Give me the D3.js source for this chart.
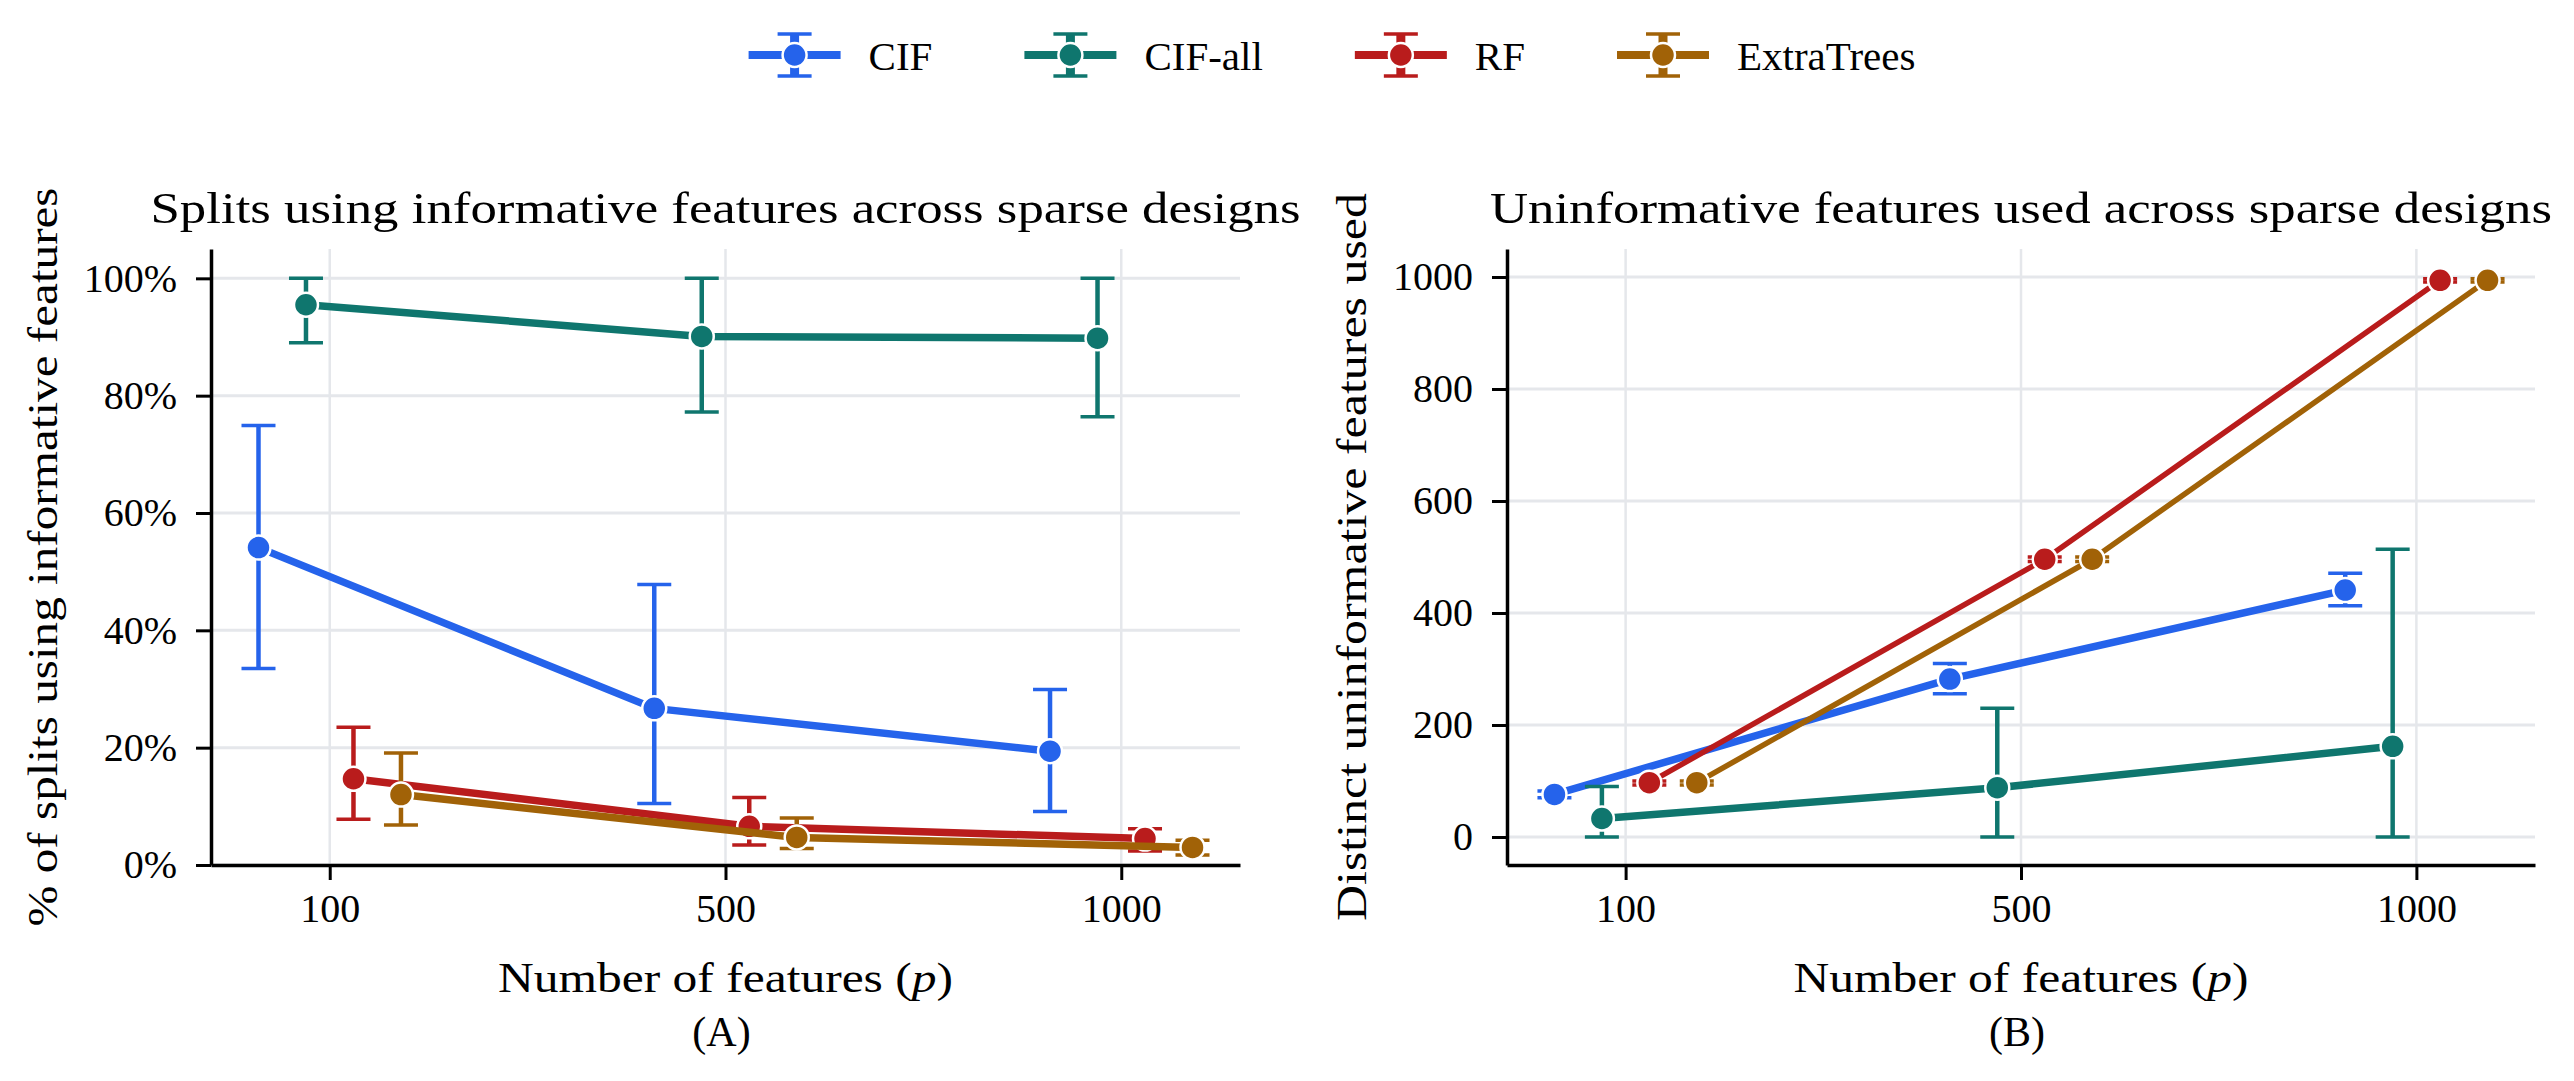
<!DOCTYPE html>
<html>
<head>
<meta charset="utf-8">
<script src="https://cdn.jsdelivr.net/npm/d3@7"></script>
<style>
  html, body { margin: 0; padding: 0; background: #fff; }
  text { font-family: "Liberation Serif", "DejaVu Serif", serif; fill: #000; }
</style>
</head>
<body>
<div id="chart"></div>
<script>
// categories on the x axis (number of features p)
const categories = ['100', '500', '1000'];
const seriesNames = ['CIF', 'CIF-all', 'RF', 'ExtraTrees'];
const seriesColors = ['#2563eb', '#0f766e', '#b91c1c', '#a16207'];

// (A) % of splits using informative features, one row per series
const splitsMean = [
  [54.1, 26.7, 19.4],
  [95.5, 90.1, 89.8],
  [14.7, 6.6, 4.5],
  [12.0, 4.7, 3.0]
];
const splitsLow = [
  [33.5, 10.5, 9.1],
  [89.0, 77.2, 76.4],
  [7.8, 3.4, 2.4],
  [6.8, 2.8, 1.7]
];
const splitsHigh = [
  [74.9, 47.8, 29.9],
  [100, 100, 100],
  [23.5, 11.5, 6.2],
  [19.1, 8.0, 4.2]
];
const splitsTicks = [0, 20, 40, 60, 80, 100];

// (B) distinct uninformative features used
const unusedMean = [
  [76, 282, 441],
  [33, 88, 162],
  [97, 496, 994],
  [97, 496, 994]
];
const unusedLow = [
  [70, 256, 413],
  [0, 0, 0],
  [93, 492, 991],
  [93, 492, 991]
];
const unusedHigh = [
  [82, 310, 471],
  [90, 230, 514],
  [100, 500, 997],
  [100, 500, 997]
];
const unusedTicks = [0, 200, 400, 600, 800, 1000];

const dodge = [-0.18, -0.06, 0.06, 0.18];

const W = 2574, H = 1081;
const gridColor = '#e5e7eb';

const svg = d3.select('#chart').append('svg')
  .attr('width', W)
  .attr('height', H)
  .attr('viewBox', `0 0 ${W} ${H}`);
svg.append('rect').attr('width', W).attr('height', H).attr('fill', '#fff');

function fitText(sel, len) {
  sel.attr('textLength', len).attr('lengthAdjust', 'spacingAndGlyphs');
}

function drawPanel(opt) {
  const { left, right, top, bottom, yDomain, yTicks, yFormat,
    mean, low, high, lineWidths } = opt;
  const g = svg.append('g');
  const x = d3.scaleLinear([-0.3, 2.3], [left, right]);
  const y = d3.scaleLinear(yDomain, [bottom, top]);

  // grid
  g.append('g').selectAll('line.hgrid')
    .data(yTicks)
    .join('line')
      .attr('x1', left).attr('x2', right)
      .attr('y1', d => y(d)).attr('y2', d => y(d))
      .attr('stroke', gridColor).attr('stroke-width', 3);
  g.append('g').selectAll('line.vgrid')
    .data(categories.map((c, i) => i))
    .join('line')
      .attr('x1', d => x(d)).attr('x2', d => x(d))
      .attr('y1', top).attr('y2', bottom)
      .attr('stroke', gridColor).attr('stroke-width', 2.5);

  // series: error bars, line, markers
  seriesNames.forEach((name, s) => {
    const color = seriesColors[s];
    const pts = categories.map((c, i) => ({
      x: x(i + dodge[s]),
      m: y(mean[s][i]),
      lo: y(low[s][i]),
      hi: y(high[s][i])
    }));
    const sg = g.append('g');

    sg.selectAll('line.stem')
      .data(pts)
      .join('line')
        .attr('x1', d => d.x).attr('x2', d => d.x)
        .attr('y1', d => d.lo).attr('y2', d => d.hi)
        .attr('stroke', color).attr('stroke-width', 4.5);
    sg.selectAll('line.cap')
      .data(pts.flatMap(d => [{ x: d.x, y: d.lo }, { x: d.x, y: d.hi }]))
      .join('line')
        .attr('x1', d => d.x - 17).attr('x2', d => d.x + 17)
        .attr('y1', d => d.y).attr('y2', d => d.y)
        .attr('stroke', color).attr('stroke-width', 3.5);

    sg.append('path')
      .datum(pts)
      .attr('d', d3.line().x(d => d.x).y(d => d.m))
      .attr('fill', 'none')
      .attr('stroke', color)
      .attr('stroke-width', lineWidths[s])
      .attr('stroke-linejoin', 'round');

    sg.selectAll('circle')
      .data(pts)
      .join('circle')
        .attr('cx', d => d.x).attr('cy', d => d.m)
        .attr('r', 12)
        .attr('fill', color)
        .attr('stroke', '#fff')
        .attr('stroke-width', 2.5);
  });

  // axes
  const xAxis = g.append('g')
    .attr('transform', `translate(0,${bottom})`)
    .call(d3.axisBottom(x).tickValues([0, 1, 2]).tickFormat(i => categories[i])
      .tickSize(15).tickSizeOuter(0).tickPadding(14));
  const yAxis = g.append('g')
    .attr('transform', `translate(${left},0)`)
    .call(d3.axisLeft(y).tickValues(yTicks).tickFormat(yFormat)
      .tickSize(15).tickSizeOuter(0).tickPadding(19));
  [xAxis, yAxis].forEach(a => {
    a.attr('font-family', null).attr('font-size', null);
    a.select('.domain').attr('stroke', '#000').attr('stroke-width', 3.5);
    a.selectAll('.tick line').attr('stroke', '#000').attr('stroke-width', 3);
    a.selectAll('.tick text').attr('fill', '#000').style('font-size', '40px');
  });

  const cx = (left + right) / 2;
  const cy = (top + bottom) / 2;
  g.append('text')
    .attr('x', cx).attr('y', 223)
    .attr('text-anchor', 'middle')
    .style('font-size', '44px')
    .text(opt.title)
    .call(fitText, opt.titleWidth);
  g.append('text')
    .attr('x', cx).attr('y', 992)
    .attr('text-anchor', 'middle')
    .style('font-size', '42px')
    .text('Number of features (')
    .call(t => t.append('tspan').style('font-style', 'italic').text('p'))
    .call(t => t.append('tspan').text(')'))
    .call(fitText, 455);
  g.append('text')
    .attr('x', cx - 4).attr('y', 1046)
    .attr('text-anchor', 'middle')
    .style('font-size', '42px')
    .text(opt.tag);
  g.append('text')
    .attr('transform', `translate(${opt.ylabelX},${cy}) rotate(-90)`)
    .attr('text-anchor', 'middle')
    .style('font-size', '42px')
    .text(opt.ylabel)
    .call(fitText, opt.ylabelWidth);
}

drawPanel({
  left: 211, right: 1240, top: 249, bottom: 865,
  yDomain: [0, 105], yTicks: splitsTicks, yFormat: d => d + '%',
  mean: splitsMean, low: splitsLow, high: splitsHigh,
  lineWidths: [7.5, 7.5, 7.5, 7.5],
  title: 'Splits using informative features across sparse designs',
  titleWidth: 1150,
  ylabel: '% of splits using informative features',
  ylabelX: 57, ylabelWidth: 739,
  tag: '(A)'
});

drawPanel({
  left: 1507, right: 2535, top: 249, bottom: 865,
  yDomain: [-50, 1050], yTicks: unusedTicks, yFormat: d => d,
  mean: unusedMean, low: unusedLow, high: unusedHigh,
  lineWidths: [7.5, 7.5, 5.5, 5.5],
  title: 'Uninformative features used across sparse designs',
  titleWidth: 1062,
  ylabel: 'Distinct uninformative features used',
  ylabelX: 1366, ylabelWidth: 728,
  tag: '(B)'
});

// legend across the top
const legend = svg.append('g');
const handleW = 92, textGap = 28, colGap = 92, legendY = 55;
const items = seriesNames.map((name, s) => {
  const g = legend.append('g');
  g.append('line')
    .attr('x1', 0).attr('x2', handleW)
    .attr('y1', legendY).attr('y2', legendY)
    .attr('stroke', seriesColors[s]).attr('stroke-width', 8);
  g.append('line')
    .attr('x1', handleW / 2).attr('x2', handleW / 2)
    .attr('y1', legendY - 21).attr('y2', legendY + 21)
    .attr('stroke', seriesColors[s]).attr('stroke-width', 9);
  [-21, 21].forEach(dy => g.append('line')
    .attr('x1', handleW / 2 - 17).attr('x2', handleW / 2 + 17)
    .attr('y1', legendY + dy).attr('y2', legendY + dy)
    .attr('stroke', seriesColors[s]).attr('stroke-width', 3.5));
  g.append('circle')
    .attr('cx', handleW / 2).attr('cy', legendY).attr('r', 12)
    .attr('fill', seriesColors[s]).attr('stroke', '#fff').attr('stroke-width', 2.5);
  const t = g.append('text')
    .attr('x', handleW + textGap).attr('y', legendY + 15)
    .style('font-size', '41px')
    .text(name);
  return { g, w: handleW + textGap + t.node().getComputedTextLength() };
});
const totalW = d3.sum(items, d => d.w) + colGap * (items.length - 1);
let lx = 1332 - totalW / 2;
items.forEach(it => {
  it.g.attr('transform', `translate(${lx},0)`);
  lx += it.w + colGap;
});
</script>
</body>
</html>
